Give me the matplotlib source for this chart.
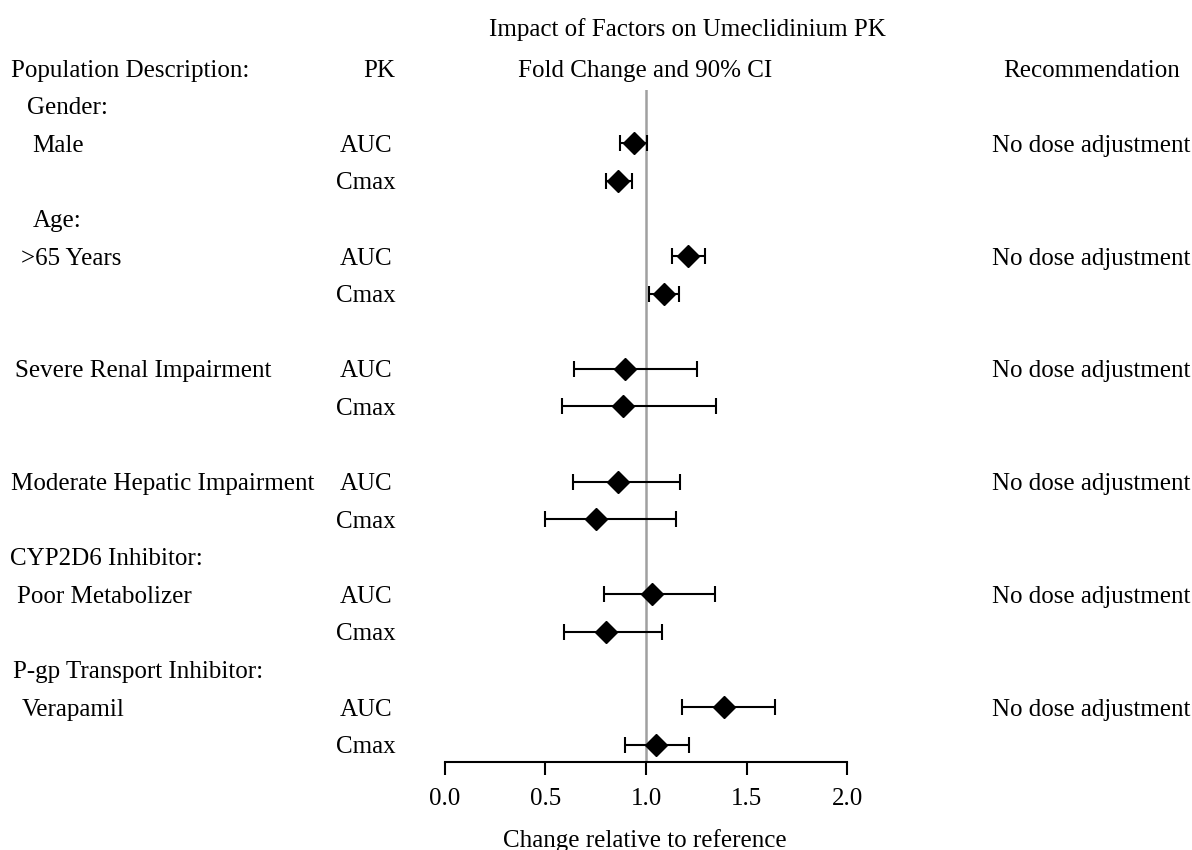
import matplotlib.pyplot as plt
import matplotlib.transforms as mtransforms

# Data
pop_labels = ["Gender:", "Male", "Age:", ">65 Years", "Severe Renal Impairment",
              "Moderate Hepatic Impairment", "CYP2D6 Inhibitor:", "Poor Metabolizer",
              "P-gp Transport Inhibitor:", "Verapamil"]
pop_rows = [1, 2, 4, 5, 8, 11, 13, 14, 16, 17]

pk_labels = ["AUC", "Cmax"] * 6
pk_rows = [2, 3, 5, 6, 8, 9, 11, 12, 14, 15, 17, 18]
estimate = [0.938, 0.862, 1.209, 1.090, 0.896, 0.885, 0.862, 0.754, 1.030, 0.800, 1.388, 1.050]
lower = [0.870, 0.800, 1.130, 1.017, 0.643, 0.582, 0.635, 0.496, 0.789, 0.594, 1.179, 0.898]
upper = [1.007, 0.931, 1.295, 1.166, 1.252, 1.348, 1.168, 1.148, 1.343, 1.078, 1.643, 1.216]

rec_text = "No dose adjustment"
rec_rows = [2, 5, 8, 11, 14, 17]

xticks = [0.0, 0.5, 1.0, 1.5, 2.0]

# layout (pixels in a 1192x850 figure)
W, H = 1192, 850
pop_x = [27, 32, 33, 21, 15, 11, 10, 17, 13, 22]
row0_px, row_step = 68, 37.6
top_px, axis_px = 90, 762
x0_px, x2_px = 444.7, 847.3

plt.rcParams['font.family'] = ['Liberation Serif', 'DejaVu Serif']
fs = 18

fig = plt.figure(figsize=(W / 100, H / 100), dpi=100)
ax = fig.add_axes([x0_px / W, 1 - axis_px / H, (x2_px - x0_px) / W, (axis_px - top_px) / H])
ax.set_xlim(0, 2)
ax.set_ylim((axis_px - row0_px) / row_step, (top_px - row0_px) / row_step)

# reference line
ax.axvline(1.0, color='#a0a0a0', lw=1.8, zorder=1)

xerr = [[e - l for e, l in zip(estimate, lower)], [u - e for e, u in zip(estimate, upper)]]
ax.errorbar(estimate, pk_rows, xerr=xerr, fmt='D', color='black', ms=11,
            elinewidth=1.5, capsize=5.5, capthick=1.5, zorder=3)

for s in ['top', 'right', 'left']:
    ax.spines[s].set_visible(False)
ax.spines['bottom'].set_linewidth(1.5)
ax.set_yticks([])
ax.set_xticks(xticks)
ax.set_xticklabels([f"{t:.1f}" for t in xticks], fontsize=fs)
ax.tick_params(axis='x', direction='out', length=9, width=1.5, pad=10)

tr = mtransforms.blended_transform_factory(fig.transFigure, ax.transData)
va = 'center_baseline'

# headers
fig.text(687 / W, 1 - 27 / H, "Impact of Factors on Umeclidinium PK", fontsize=fs,
         ha='center', va=va)
ax.text(11 / W, 0, "Population Description:", transform=tr, fontsize=fs, va=va, clip_on=False)
ax.text(379 / W, 0, "PK", transform=tr, fontsize=fs, va=va, ha='center', clip_on=False)
ax.text(645 / W, 0, "Fold Change and 90% CI", transform=tr, fontsize=fs, va=va,
        ha='center', clip_on=False)
ax.text(1092 / W, 0, "Recommendation", transform=tr, fontsize=fs, va=va,
        ha='center', clip_on=False)

for lab, r, px in zip(pop_labels, pop_rows, pop_x):
    ax.text(px / W, r, lab, transform=tr, fontsize=fs, va=va, clip_on=False)
for lab, r in zip(pk_labels, pk_rows):
    ax.text(366 / W, r, lab, transform=tr, fontsize=fs, va=va, ha='center', clip_on=False)
for r in rec_rows:
    ax.text(1091 / W, r, rec_text, transform=tr, fontsize=fs, va=va, ha='center',
            clip_on=False)

fig.text(645 / W, 1 - 838 / H, "Change relative to reference", fontsize=fs,
         ha='center', va=va)

fig.savefig("out.png", dpi=100, facecolor='white')
